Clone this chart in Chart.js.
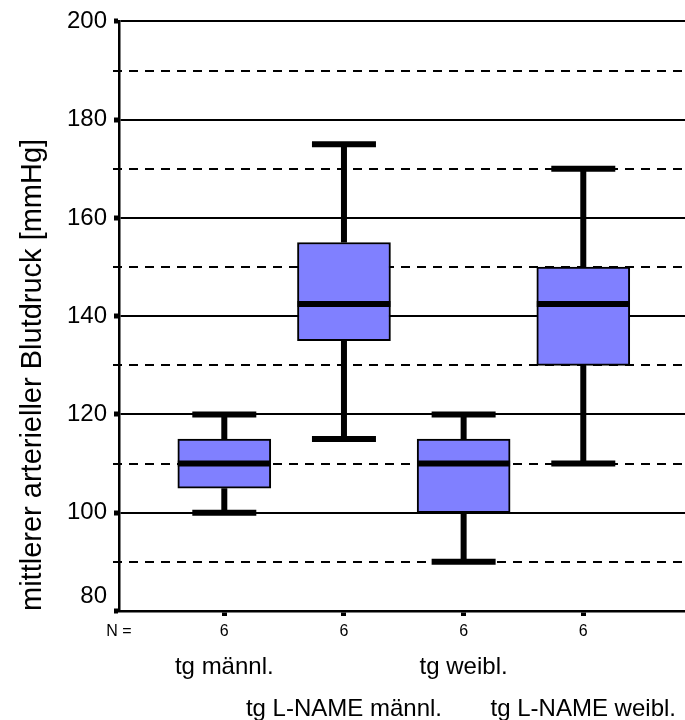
<!DOCTYPE html>
<html>
<head>
<meta charset="utf-8">
<script src="https://cdn.jsdelivr.net/npm/chart.js@4.4.1/dist/chart.umd.min.js"></script>
<style>
  html, body { margin: 0; padding: 0; background: #fff; }
  #wrap { width: 685px; height: 720px; position: relative; }
</style>
</head>
<body>
<div id="wrap"><canvas id="c"></canvas></div>
<script>
// ---- data ----
const categories = ['tg männl.', 'tg L-NAME männl.', 'tg weibl.', 'tg L-NAME weibl.'];
const positions = [1, 2, 3, 4];
const nValues = [6, 6, 6, 6];
const whiskerMin = [100, 115, 90, 110];
const q1 = [105, 135, 100, 130];
const median = [110, 142.5, 110, 142.5];
const q3 = [115, 155, 115, 150];
const whiskerMax = [120, 175, 120, 170];
const yTicks = [80, 100, 120, 140, 160, 180, 200];
const dashedLines = [90, 110, 130, 150, 170, 190];
const nLabel = 'N =';
const yTitle = 'mittlerer arterieller Blutdruck [mmHg]';

const xMin = 0.12, xMax = 4.85;
const FONT = "'Liberation Sans', Arial, Helvetica, sans-serif";

const boxPlugin = {
  id: 'boxplot',
  beforeDatasetsDraw(chart) {
    const {ctx, chartArea, scales: {x, y}} = chart;
    ctx.save();
    ctx.strokeStyle = '#000';
    ctx.lineWidth = 2;
    ctx.setLineDash([9, 7]);
    dashedLines.forEach(v => {
      const py = Math.round(y.getPixelForValue(v));
      ctx.beginPath();
      ctx.moveTo(chartArea.left - 6, py);
      ctx.lineTo(chartArea.right, py);
      ctx.stroke();
    });
    ctx.setLineDash([]);
    ctx.lineWidth = 6;
    positions.forEach((p, i) => {
      const px = x.getPixelForValue(p);
      ctx.beginPath();
      ctx.moveTo(px, y.getPixelForValue(whiskerMin[i]));
      ctx.lineTo(px, y.getPixelForValue(q1[i]));
      ctx.moveTo(px, y.getPixelForValue(q3[i]));
      ctx.lineTo(px, y.getPixelForValue(whiskerMax[i]));
      ctx.stroke();
    });
    ctx.restore();
  },
  afterDatasetsDraw(chart) {
    const {ctx, scales: {x, y}} = chart;
    const meta = chart.getDatasetMeta(0);
    ctx.save();
    ctx.strokeStyle = '#000';
    ctx.lineWidth = 6;
    ctx.lineCap = 'butt';
    positions.forEach((p, i) => {
      const px = x.getPixelForValue(p);
      const capHalf = 32;
      [whiskerMin[i], whiskerMax[i]].forEach(v => {
        const py = y.getPixelForValue(v);
        ctx.beginPath();
        ctx.moveTo(px - capHalf, py);
        ctx.lineTo(px + capHalf, py);
        ctx.stroke();
      });
      const bar = meta.data[i];
      const half = bar.width / 2;
      const pm = y.getPixelForValue(median[i]);
      ctx.beginPath();
      ctx.moveTo(px - half, pm);
      ctx.lineTo(px + half, pm);
      ctx.stroke();
    });
    ctx.restore();
  }
};

new Chart(document.getElementById('c'), {
  type: 'bar',
  data: {
    datasets: [{
      data: positions.map((p, i) => ({x: p, y: [q1[i], q3[i]]})),
      backgroundColor: '#8080FF',
      borderColor: '#000',
      borderWidth: 2,
      borderSkipped: false,
      barThickness: 93
    }]
  },
  options: {
    responsive: true,
    maintainAspectRatio: false,
    animation: false,
    layout: { padding: { top: 16, right: 0, bottom: 0, left: 0 } },
    plugins: { legend: { display: false }, tooltip: { enabled: false } },
    scales: {
      x: {
        type: 'linear',
        position: 'bottom',
        weight: 0,
        offset: false,
        min: xMin, max: xMax,
        afterBuildTicks(s) { s.ticks = [xMin].concat(positions).map(v => ({value: v})); },
        afterFit(s) { s.height = 35; },
        grid: {
          offset: false,
          drawOnChartArea: false, drawTicks: true, tickLength: 5, tickWidth: 5,
          tickColor: ctx => (ctx.index === 0 ? 'rgba(0,0,0,0)' : '#000')
        },
        border: { display: true, color: '#000', width: 2.5 },
        ticks: {
          autoSkip: false, maxRotation: 0, minRotation: 0, padding: 6, color: '#000',
          font: { family: FONT, size: 16 },
          callback: (v, i) => (i === 0 ? nLabel : String(nValues[i - 1]))
        }
      },
      x2: {
        type: 'linear',
        position: 'bottom',
        weight: 1,
        offset: false,
        min: xMin, max: xMax,
        afterBuildTicks(s) { s.ticks = positions.map(v => ({value: v})); },
        afterFit(s) { s.height = 74; },
        grid: { display: false, drawTicks: false, offset: false },
        border: { display: false },
        ticks: {
          autoSkip: false, maxRotation: 0, minRotation: 0, padding: 0, color: '#000',
          font: { family: FONT, size: 24, lineHeight: 1.75 },
          callback: (v, i) => (i % 2 === 0 ? [categories[i]] : ['', categories[i]])
        }
      },
      y: {
        type: 'linear',
        min: 80, max: 200,
        afterBuildTicks(s) { s.ticks = yTicks.map(v => ({value: v})); },
        afterFit(s) { s.width = 119; },
        grid: { color: '#000', lineWidth: 2, drawTicks: true, tickLength: 5, tickWidth: 5, tickColor: '#000' },
        border: { display: true, color: '#000', width: 2.5 },
        ticks: {
          padding: 7, color: '#000',
          font: { family: FONT, size: 24, lineHeight: 1.2 },
          callback: v => (v === 80 ? ['80', ''] : String(v))
        },
        title: {
          display: true, text: yTitle, align: 'start', color: '#000',
          font: { family: FONT, size: 29, lineHeight: 1.2 },
          padding: { top: 16, bottom: 0 }
        }
      }
    }
  },
  plugins: [boxPlugin]
});
</script>
</body>
</html>
